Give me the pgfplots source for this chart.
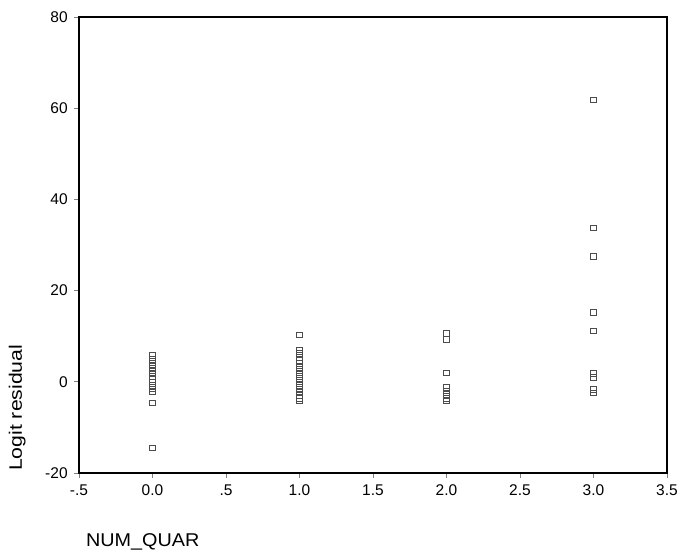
\documentclass[border=0pt]{standalone}
\usepackage{pgfplots}
\pgfplotsset{compat=1.18}
\usepackage{fontspec}
\setmainfont{Liberation Sans}
\begin{document}
\fontsize{15.5bp}{18bp}\selectfont
\begin{tikzpicture}
\useasboundingbox (0,0) rectangle (683bp,559bp);
\begin{axis}[
  at={(79bp,86bp)}, anchor=south west,
  width=588bp, height=456bp, scale only axis,
  xmin=-0.5, xmax=3.5, ymin=-20, ymax=80,
  xtick={-0.5,0,0.5,1,1.5,2,2.5,3,3.5},
  xticklabels={-.5,0.0,.5,1.0,1.5,2.0,2.5,3.0,3.5},
  ytick={-20,0,20,40,60,80},
  tick align=outside, tick pos=left,
  major tick length=5bp,
  axis line style={line width=1.1pt},
  major tick style={line width=0.9pt},
  /pgf/number format/assume math mode=true,
  ticklabel style={font=\fontsize{15.5bp}{18bp}\selectfont},
  yticklabel style={xshift=-1bp},
  xticklabel style={yshift=-1bp},
  xlabel={\scalebox{1.07}[1]{NUM\_QUAR}},
  xlabel style={at={(axis description cs:0.003,-0.151)}, anchor=west, font=\fontsize{18.5bp}{21bp}\selectfont},
  ylabel={\scalebox{1.18}[1]{Logit residual}},
  ylabel style={at={(axis description cs:-0.105,0.143)}, anchor=center, font=\fontsize{18bp}{21bp}\selectfont},
]
\addplot[only marks, mark=square, mark size=2.8bp, draw=black!70, line width=0.6pt] coordinates {
(0,5.8) (0,5.0) (0,4.2) (0,3.5) (0,3.0) (0,2.5) (0,2.0) (0,1.2) (0,0.6) (0,0.0) (0,-0.8) (0,-1.5) (0,-2.2) (0,-4.6) (0,-14.5)
(1,10.3) (1,7.0) (1,6.2) (1,5.4) (1,4.7) (1,4.0) (1,3.2) (1,2.4) (1,1.6) (1,0.8) (1,0.0) (1,-0.8) (1,-1.5) (1,-2.2) (1,-3.0) (1,-3.6) (1,-4.2)
(2,10.6) (2,9.3) (2,2.0) (2,-1.2) (2,-2.0) (2,-2.8) (2,-3.6) (2,-4.2)
(3,61.8) (3,33.8) (3,27.5) (3,15.2) (3,11.2) (3,1.8) (3,1.0) (3,-1.6) (3,-2.4)
};
\end{axis}
\end{tikzpicture}
\end{document}
